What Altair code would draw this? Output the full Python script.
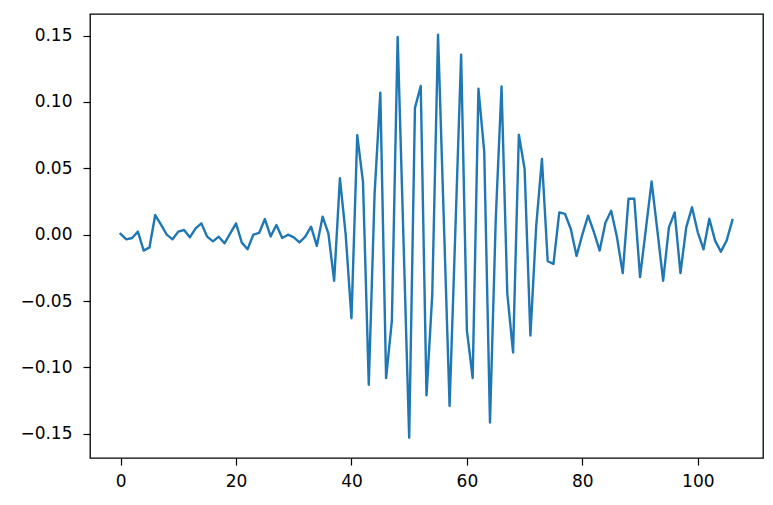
import altair as alt
import pandas as pd

values = [
    0.0005, -0.0035, -0.0025, 0.0023, -0.012, -0.0096, 0.0148, 0.0075, 0.0, -0.0035,
    0.0023, 0.0035, -0.002, 0.0048, 0.0085, -0.0015, -0.005, -0.0015, -0.0065, 0.001,
    0.0085, -0.006, -0.011, 0.0, 0.0013, 0.0118, -0.0013, 0.0073, -0.0025, 0.0,
    -0.002, -0.0058, -0.0015, 0.006, -0.0085, 0.0136, 0.001, -0.0347, 0.0425, 0.0,
    -0.063, 0.075, 0.0395, -0.113, 0.03, 0.107, -0.108, -0.065, 0.149, -0.002,
    -0.153, 0.0955, 0.112, -0.121, -0.045, 0.1506, 0.011, -0.129, 0.003, 0.1355,
    -0.072, -0.108, 0.110, 0.0626, -0.1415, 0.012, 0.1116, -0.0445, -0.0887, 0.0752,
    0.0495, -0.076, 0.006, 0.057, -0.020, -0.022, 0.0168, 0.0156, 0.0043, -0.016,
    0.0, 0.0143, 0.002, -0.012, 0.009, 0.018, -0.002, -0.029, 0.027, 0.027,
    -0.032, 0.004, 0.040, 0.003, -0.0347, 0.0055, 0.0168, -0.029, 0.0055, 0.0206,
    0.0018, -0.011, 0.012, -0.0045, -0.0128, -0.0045, 0.011,
]
index = list(range(len(values)))
x_ticks = [0, 20, 40, 60, 80, 100]
y_ticks = [-0.15, -0.10, -0.05, 0.0, 0.05, 0.10, 0.15]

df = pd.DataFrame({"i": index, "v": values})

chart = (
    alt.Chart(df)
    .mark_line(color="#1f77b4", strokeWidth=2.4, strokeJoin="round", strokeCap="square")
    .encode(
        x=alt.X(
            "i:Q",
            scale=alt.Scale(domain=[-5.3, 111.3], nice=False, zero=False),
            axis=alt.Axis(values=x_ticks, title=None, labelPadding=8),
        ),
        y=alt.Y(
            "v:Q",
            scale=alt.Scale(domain=[-0.1682, 0.1662], nice=False, zero=False),
            axis=alt.Axis(
                values=y_ticks,
                title=None,
                labelPadding=11,
                labelExpr="replace(format(datum.value, '.2f'), '-', '\u2212')",
            ),
        ),
    )
    .properties(
        width=673,
        height=444,
        autosize=alt.AutoSizeParams(type="none"),
        padding={"left": 82, "top": 6, "right": 2, "bottom": 40},
    )
    .configure_view(stroke="black", strokeWidth=1.3)
    .configure_axis(
        grid=False,
        domain=False,
        ticks=True,
        tickColor="black",
        tickSize=7,
        tickWidth=1.2,
        labelFont="DejaVu Sans",
        labelFontSize=17,
        labelColor="black",
    )
)

chart.save("out.html", embed_options={"renderer": "svg", "actions": False})
